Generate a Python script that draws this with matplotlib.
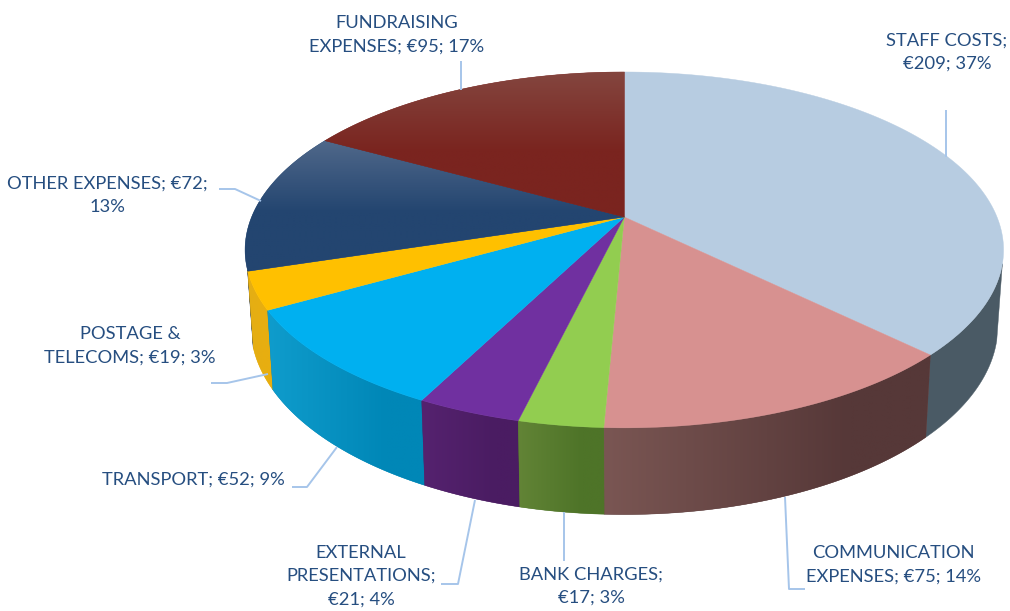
import numpy as np
import matplotlib
matplotlib.use("Agg")
import matplotlib.pyplot as plt
from matplotlib.patches import Polygon
from matplotlib.colors import to_rgb

categories = ["STAFF COSTS", "COMMUNICATION EXPENSES", "BANK CHARGES", "EXTERNAL PRESENTATIONS",
              "TRANSPORT", "POSTAGE & TELECOMS", "OTHER EXPENSES", "FUNDRAISING EXPENSES"]
values = [209, 75, 17, 21, 52, 19, 72, 95]
label_texts = ["STAFF COSTS;\n€209; 37%", "COMMUNICATION\nEXPENSES; €75; 14%", "BANK CHARGES;\n€17; 3%",
               "EXTERNAL\nPRESENTATIONS;\n€21; 4%", "TRANSPORT; €52; 9%", "POSTAGE &\nTELECOMS; €19; 3%",
               "OTHER EXPENSES; €72;\n13%", "FUNDRAISING\nEXPENSES; €95; 17%"]

# styling and layout
top_colors = [("#B7CCE1", "#B7CCE1"), ("#D79190", "#D79190"), ("#92CD50", "#92CD50"), ("#7030A0", "#7030A0"),
              ("#00B0F0", "#00B0F0"), ("#FFC000", "#FFC000"), ("#50688A", "#234570"), ("#84463F", "#7A241F")]
side_colors = [("#4A5A65", "#4A5A65"), ("#7A5653", "#563838"), ("#628436", "#4E7428"), ("#55226F", "#4A1C62"),
               ("#0F9CCC", "#0087B7"), ("#E4AE14", "#E8AE10"), ("#1A2C40", "#1A2C40"), ("#5A1A16", "#5A1A16")]
label_pos = [(947, 52), (893, 565), (591, 586), (361, 576), (193, 480), (130, 346), (107, 195), (397, 35)]
leaders = [[(946, 157), (946, 110)], [(785, 497), (789, 589), (805, 589)], [(564, 512), (564, 561)],
           [(475, 500), (458, 584), (441, 584)], [(337, 447), (307, 487), (292, 487)],
           [(268, 374), (227, 383), (211, 383)], [(261, 201), (235, 189), (219, 189)], [(461, 90), (461, 61)]]
APEX = (624.3, 217.0)
K, A, C = 372.7, 131.7, -0.185
SX, SY, D = 0.985, 1.06, 74.0
TEXT = "#264E80"
LINE = "#A6C5EA"

plt.rcParams["font.family"] = ["Lato", "DejaVu Sans"]
fig = plt.figure(figsize=(10.10, 6.11), dpi=100)
ax = fig.add_axes([0, 0, 1, 1])
ax.axis("off")


def rim(theta):
    """Project angle (clockwise from top, radians) on to the tilted top disc, relative to apex."""
    u, v = np.sin(theta), -np.cos(theta)
    w = 1 + C * v
    return K * u / w, (A * v + APEX[1]) / w - APEX[1]


def top_xy(theta):
    x, y = rim(theta)
    return x + APEX[0], y + APEX[1]


def bottom_xy(theta):
    x, y = rim(theta)
    return SX * x + APEX[0], SY * y + D + APEX[1]


def gradient_patch(poly, c0, c1, horizontal, zorder):
    ax.add_patch(Polygon(poly, closed=True, fc=c1, ec=c1, lw=0.3, zorder=zorder))
    if c0 == c1:
        return
    x0, x1 = poly[:, 0].min(), poly[:, 0].max()
    y0, y1 = poly[:, 1].min(), poly[:, 1].max()
    t = np.linspace(0, 1, 128)
    t = np.clip(t / (0.75 if horizontal else 0.55), 0, 1)
    col = (1 - t)[:, None] * np.array(to_rgb(c0)) + t[:, None] * np.array(to_rgb(c1))
    img = col[None, :, :] if horizontal else col[:, None, :]
    clip = Polygon(poly, closed=True, transform=ax.transData)
    im = ax.imshow(img, extent=(x0, x1, y1, y0), aspect="auto", zorder=zorder + 0.1,
                   interpolation="bilinear")
    im.set_clip_path(clip)


fractions = np.array(values) / np.sum(values)
edges = np.concatenate([[0], np.cumsum(fractions)]) * 2 * np.pi
lo_vis, hi_vis = np.radians(105), np.radians(253)

# sides, back to front
order = np.argsort([abs((edges[i] + edges[i + 1]) / 2 - np.pi) for i in range(len(values))])[::-1]
for z, i in enumerate(order):
    a, b = max(edges[i], lo_vis), min(edges[i + 1], hi_vis)
    if b <= a:
        continue
    th = np.linspace(a, b, 120)
    tx, ty = top_xy(th)
    bx, by = bottom_xy(th)
    poly = np.column_stack([np.concatenate([tx, bx[::-1]]), np.concatenate([ty, by[::-1]])])
    gradient_patch(poly, side_colors[i][0], side_colors[i][1], True, 2 + z)

# top faces
for i in range(len(values)):
    th = np.linspace(edges[i], edges[i + 1], 200)
    tx, ty = top_xy(th)
    poly = np.column_stack([np.concatenate([[APEX[0]], tx]), np.concatenate([[APEX[1]], ty])])
    gradient_patch(poly, top_colors[i][0], top_colors[i][1], False, 20 + i)

for pts in leaders:
    xs, ys = zip(*pts)
    ax.plot(xs, ys, color=LINE, lw=1.4, zorder=40, solid_capstyle="butt")

for txt, (x, y) in zip(label_texts, label_pos):
    ax.text(x, y, txt, ha="center", va="center", fontsize=13.2, color=TEXT, linespacing=1.56, zorder=50)

ax.set_xlim(0, 1010)
ax.set_ylim(611, 0)
fig.savefig("out.png", dpi=100)
